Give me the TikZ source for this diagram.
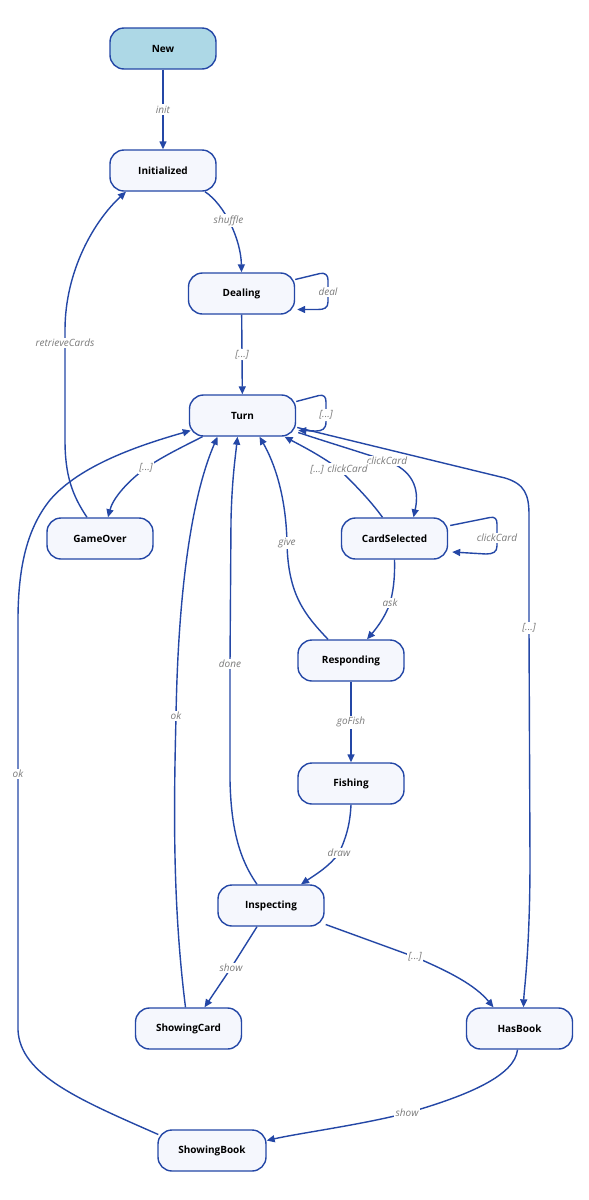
\documentclass[tikz,border=0pt]{standalone}
\usepackage{fontspec}
\setmainfont{Open Sans}
\usetikzlibrary{arrows.meta,calc}
\definecolor{edgeblue}{HTML}{2447A6}
\definecolor{nodefill}{HTML}{F5F7FD}
\definecolor{newfill}{HTML}{ADD8E6}
\definecolor{lblgray}{HTML}{7A7A7A}
\begin{document}
\begin{tikzpicture}[x=1pt,y=-1pt,
  state/.style={draw=edgeblue, line width=1.4pt, fill=nodefill, rounded corners=14pt,
    minimum width=106pt, minimum height=41pt, inner sep=0pt,
    font=\bfseries\fontsize{10}{12}\selectfont},
  tr/.style={draw=edgeblue, line width=1.4pt, -{Triangle[length=8pt,width=7pt]}},
  lbl/.style={fill=white, text=lblgray, inner sep=1.5pt,
    font=\itshape\fontsize{10}{12}\selectfont}]
\fill[white] (0,0) rectangle (589,1200);
\useasboundingbox (0,0) rectangle (589,1200);

% states
\node[state, fill=newfill] (New) at (163,48.5) {New};
\node[state] (Initialized) at (163,170.5) {Initialized};
\node[state] (Dealing) at (241.5,293.5) {Dealing};
\node[state] (Turn) at (242.5,415.5) {Turn};
\node[state] (GameOver) at (100,538.5) {GameOver};
\node[state] (CardSelected) at (394.5,538.5) {CardSelected};
\node[state] (Responding) at (351,660.5) {Responding};
\node[state] (Fishing) at (351,783.5) {Fishing};
\node[state] (Inspecting) at (271,905.5) {Inspecting};
\node[state] (ShowingCard) at (188.5,1028.5) {ShowingCard};
\node[state] (HasBook) at (519.5,1028.5) {HasBook};
\node[state, minimum width=108pt] (ShowingBook) at (212,1150.5) {ShowingBook};

% transitions
\draw[tr] (New) -- node[lbl]{init} (Initialized);

\draw[tr] ($(Initialized.south)+(42,0)$) .. controls (225,205) and (241,240) .. (Dealing.north)
  node[lbl, pos=0.45]{shuffle};

\draw[tr] ($(Dealing.east)+(0,-14)$) -- (320,273.5) .. controls (325,272.5) and (328,275) .. (328,280)
  -- (328,292) node[lbl]{deal} -- (328,302) .. controls (328,308) and (324,309.5) .. (318,309.5)
  -- ($(Dealing.east)+(2,16)$);

\draw[tr] (Dealing) -- node[lbl]{[...]} (Turn);

\draw[tr] ($(Turn.east)+(0,-14)$) -- (319,395.5) .. controls (324,394.5) and (326,397) .. (326,402)
  -- (326,415) node[lbl]{[...]} -- (326,422) .. controls (326,429) and (322,431) .. (316,431)
  -- ($(Turn.east)+(2,15)$);

\draw[tr] ($(Turn.south)+(-40,0)$) .. controls (180,448) and (160,458) .. (146,468) node[lbl]{[...]}
  .. controls (128,481) and (113,498) .. ($(GameOver.north)+(8,0)$);

\draw[tr] ($(GameOver.north)+(-13,0)$) .. controls (72,495) and (65,475) .. (65,440)
  -- (65,343) node[lbl]{retrieveCards} -- (65,330)
  .. controls (65,270) and (95,220) .. ($(Initialized.south)+(-37,0)$);

\draw[tr] ($(ShowingBook.west)+(1,-16)$) .. controls (80,1100) and (20,1075) .. (18,1030)
  -- (18,774) node[lbl]{ok} -- (18,620)
  .. controls (18,560) and (30,525) .. (50,500)
  .. controls (80,465) and (140,445) .. ($(Turn.west)+(2,15)$);

\draw[tr] ($(ShowingCard.north)+(-3,0)$) .. controls (172,900) and (174,800) .. (176,716) node[lbl]{ok}
  .. controls (178,600) and (190,500) .. ($(Turn.south)+(-25,0)$);

\draw[tr] ($(Inspecting.north)+(-14,0)$) .. controls (240,860) and (231,830) .. (230,780)
  -- (230,664) node[lbl]{done} -- (231,520) .. controls (232,480) and (235,460) .. ($(Turn.south)+(-5,0)$);

\draw[tr] ($(Responding.north)+(-23,0)$) .. controls (305,615) and (288,595) .. (287,543) node[lbl]{give}
  .. controls (286,495) and (274,462) .. ($(Turn.south)+(17,0)$);

\draw[tr] ($(Turn.east)+(2,17)$) .. controls (330,443) and (360,452) .. (387,461) node[lbl]{clickCard}
  .. controls (412,470) and (420,488) .. ($(CardSelected.north)+(19,0)$);

\draw[tr] ($(CardSelected.north)+(-12,0)$) .. controls (370,500) and (355,485) .. (339,469) node[lbl]{[...] clickCard}
  .. controls (320,455) and (300,445) .. ($(Turn.south)+(42,0)$);

\draw[tr] ($(CardSelected.east)+(2,-13)$) -- (490,517.5) .. controls (495,516.5) and (497,519) .. (497,524)
  -- (497,538) node[lbl]{clickCard} -- (497,546) .. controls (497,552) and (493,554) .. (486,554)
  -- ($(CardSelected.east)+(4,13.5)$);

\draw[tr] ($(Turn.east)+(1,12)$) -- (505,478) .. controls (525,484) and (529,495) .. (529,515)
  -- (529,628) node[lbl]{[...]} -- (530,860) .. controls (530,950) and (524,990) .. ($(HasBook.north)+(4,0)$);

\draw[tr] (CardSelected.south) .. controls (395,580) and (393,592) .. (390,603) node[lbl]{ask}
  .. controls (385,618) and (375,630) .. ($(Responding.north)+(16,0)$);

\draw[tr] (Responding) -- node[lbl]{goFish} (Fishing);

\draw[tr] (Fishing.south) .. controls (350,825) and (346,838) .. (339,853) node[lbl]{draw}
  .. controls (330,866) and (315,875) .. ($(Inspecting.north)+(30,0)$);

\draw[tr] ($(Inspecting.south)+(-14,0)$) -- (231,968) node[lbl]{show} -- ($(ShowingCard.north)+(16,0)$);

\draw[tr] ($(Inspecting.east)+(1,19)$) -- (415,957) node[lbl]{[...]}
  .. controls (450,972) and (475,985) .. ($(HasBook.north)+(-26,0)$);

\draw[tr] ($(HasBook.south)+(-2,0)$) .. controls (515,1075) and (470,1095) .. (407,1113) node[lbl]{show}
  .. controls (360,1125) and (300,1133) .. ($(ShowingBook.east)+(0,-10)$);
\end{tikzpicture}
\end{document}
